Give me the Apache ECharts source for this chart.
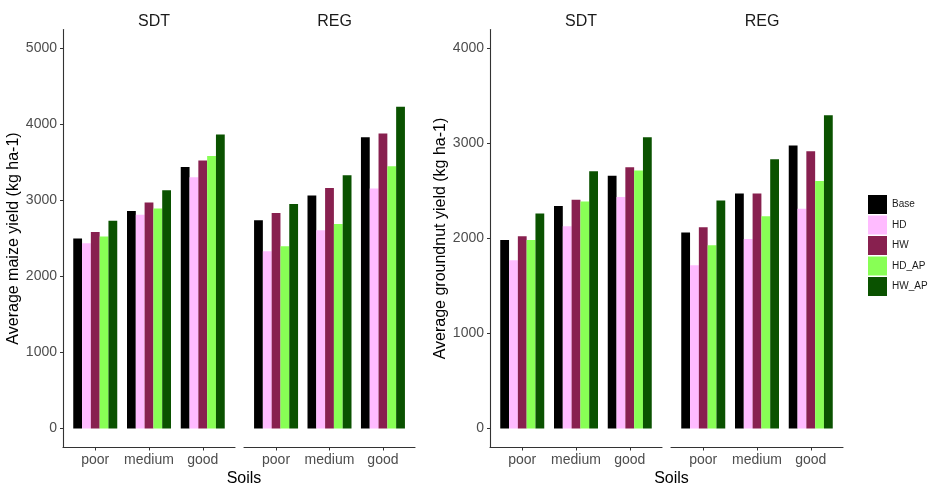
<!DOCTYPE html>
<html>
<head>
<meta charset="utf-8">
<script src="https://cdn.jsdelivr.net/npm/echarts@6/dist/echarts.min.js"></script>
<style>html,body{margin:0;padding:0;background:#fff}#c{width:931px;height:484px}</style>
</head>
<body>
<div id="c"></div>
<script>
// ---- data ----
const categories = ['poor', 'medium', 'good'];
const treatments = ['Base', 'HD', 'HW', 'HD_AP', 'HW_AP'];
const colors = ['#000000', '#ffbbff', '#88204f', '#88ff55', '#0a5200'];
// rows follow treatments order; columns follow categories order
const maizeSDT = [
  [2500, 2863, 3442],
  [2438, 2811, 3307],
  [2587, 2974, 3526],
  [2526, 2895, 3587],
  [2732, 3136, 3868]
];
const maizeREG = [
  [2741, 3066, 3833],
  [2333, 2609, 3158],
  [2837, 3166, 3882],
  [2399, 2692, 3451],
  [2955, 3333, 4232]
];
const groundnutSDT = [
  [1985, 2341, 2661],
  [1771, 2130, 2436],
  [2024, 2408, 2749],
  [1985, 2390, 2717],
  [2263, 2707, 3066]
];
const groundnutREG = [
  [2062, 2474, 2978],
  [1718, 1996, 2313],
  [2119, 2474, 2918],
  [1929, 2235, 2605],
  [2400, 2833, 3298]
];
const maizeTicks = [0, 1000, 2000, 3000, 4000, 5000];
const groundnutTicks = [0, 1000, 2000, 3000, 4000];
const facetNames = ['SDT', 'REG'];

// ---- layout ----
const FONT = 'Liberation Sans, Arial, sans-serif';
const AX = '#333333';
const LAB = '#4d4d4d';
const gridTop = 29.5, gridHeight = 418;
const grids = [
  {left: 63, top: gridTop, width: 172, height: gridHeight},
  {left: 244, top: gridTop, width: 171, height: gridHeight},
  {left: 490, top: gridTop, width: 172, height: gridHeight},
  {left: 671, top: gridTop, width: 172, height: gridHeight}
];
const facetData = [maizeSDT, maizeREG, groundnutSDT, groundnutREG];

function xAxisFor(i) {
  return {
    type: 'value', gridIndex: i, min: -0.6, max: 2.6,
    splitLine: {show: false},
    axisLine: {show: true, onZero: false, lineStyle: {color: AX, width: 1.1}},
    axisTick: {show: true, length: 3, lineStyle: {color: AX}, customValues: [0, 1, 2]},
    axisLabel: {
      customValues: [0, 1, 2], margin: 6,
      formatter: v => categories[Math.round(v)],
      color: LAB, fontSize: 14, fontFamily: FONT
    }
  };
}
function yAxisFor(i, min, max, ticks, name, visible) {
  return {
    type: 'value', gridIndex: i, min: min, max: max,
    show: visible,
    splitLine: {show: false},
    name: name, nameLocation: 'middle', nameGap: 37.5, nameRotate: 90,
    nameTextStyle: {color: '#000', fontSize: 16, fontFamily: FONT},
    axisLine: {show: true, onZero: false, lineStyle: {color: AX, width: 1.1}},
    axisTick: {show: true, length: 3, lineStyle: {color: AX}, customValues: ticks},
    axisLabel: {
      customValues: ticks, margin: 6, color: LAB, fontSize: 14, fontFamily: FONT,
      formatter: v => String(v)
    }
  };
}

const xAxes = grids.map((g, i) => xAxisFor(i));
const yAxes = [
  yAxisFor(0, -250, 5250, maizeTicks, 'Average maize yield (kg ha-1)', true),
  yAxisFor(1, -250, 5250, maizeTicks, '', false),
  yAxisFor(2, -200, 4200, groundnutTicks, 'Average groundnut yield (kg ha-1)', true),
  yAxisFor(3, -200, 4200, groundnutTicks, '', false)
];

const series = [];
facetData.forEach((facet, gi) => {
  treatments.forEach((t, ti) => {
    series.push({
      type: 'bar', name: t,
      xAxisIndex: gi, yAxisIndex: gi,
      barWidth: 8.8, barGap: '0%',
      itemStyle: {color: colors[ti]},
      data: facet[ti].map((v, ci) => [ci, v])
    });
  });
});

const titles = [];
grids.forEach((g, i) => {
  titles.push({
    text: facetNames[i % 2], left: g.left + g.width / 2, top: 9, textAlign: 'center',
    textStyle: {fontSize: 16, fontWeight: 'normal', color: '#1a1a1a', fontFamily: FONT}
  });
});
[[grids[0], grids[1]], [grids[2], grids[3]]].forEach(pair => {
  const cx = (pair[0].left + pair[1].left + pair[1].width) / 2;
  titles.push({
    text: 'Soils', left: cx, top: 466, textAlign: 'center',
    textStyle: {fontSize: 16, fontWeight: 'normal', color: '#000', fontFamily: FONT}
  });
});

const chart = echarts.init(document.getElementById('c'), null, {renderer: 'canvas'});
chart.setOption({
  animation: false,
  backgroundColor: '#fff',
  color: colors,
  title: titles,
  grid: grids,
  xAxis: xAxes,
  yAxis: yAxes,
  legend: {
    data: treatments, orient: 'vertical', left: 863, top: 190,
    itemWidth: 19, itemHeight: 19, itemGap: 1.5, icon: 'rect',
    textStyle: {fontSize: 10, color: '#1a1a1a', fontFamily: FONT}
  },
  series: series
});
</script>
</body>
</html>
